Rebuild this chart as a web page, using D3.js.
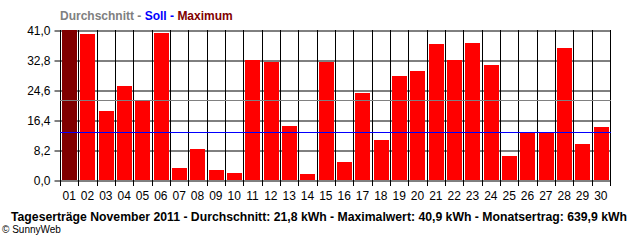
<!DOCTYPE html>
<html>
<head>
<meta charset="utf-8">
<script src="https://cdn.jsdelivr.net/npm/d3@7"></script>
<style>
  body { margin: 0; background: #fff; }
  text { font-family: "Liberation Sans", Arial, sans-serif; }
</style>
</head>
<body>
<div id="chart"></div>
<script>
// daily yields November 2011 (kWh)
const days = d3.range(1, 31).map(d => d3.format("02d")(d))
const yields = [40.9, 39.9, 18.9, 25.7, 21.6, 40.3, 3.3, 8.6, 2.7, 1.9,
                32.8, 32.3, 14.8, 1.6, 32.3, 4.9, 23.8, 10.9, 28.4, 29.8,
                37.2, 32.8, 37.4, 31.4, 6.6, 13.0, 13.0, 36.1, 9.8, 14.5]
const yTicks = [0, 8.2, 16.4, 24.6, 32.8, 41.0]
const average = 21.8
const target = 13.0
const legendParts = [["Durchschnitt", "#808080"], [" - ", "#808080"], ["Soll", "#0000ff"], [" - ", "#0000ff"], ["Maximum", "#800000"]]
const title = "Tageserträge November 2011 - Durchschnitt: 21,8 kWh - Maximalwert: 40,9 kWh - Monatsertrag: 639,9 kWh"

const width = 640, height = 240
const plot = { left: 60, right: 610, top: 30, bottom: 180 }

const svg = d3.select("#chart").append("svg")
    .attr("width", width)
    .attr("height", height)

const x = d3.scaleBand().domain(days).range([plot.left, plot.right]).padding(0)
const y = d3.scaleLinear().domain([0, 41]).range([plot.bottom, plot.top])
const fmt = v => d3.format(".1f")(v).replace(".", ",")
const maxVal = d3.max(yields)

// legend
const leg = svg.append("text")
    .attr("x", 60).attr("y", 20)
    .attr("font-size", 12).attr("font-weight", "bold")
leg.selectAll("tspan").data(legendParts).join("tspan")
    .attr("fill", d => d[1])
    .text(d => d[0])

// horizontal grid + left ticks
const yAxis = svg.append("g")
    .attr("transform", "translate(" + (plot.left + 0.5) + ",0.5)")
    .call(d3.axisLeft(y).tickValues(yTicks).tickFormat(fmt).tickSize(6).tickPadding(4))
yAxis.select(".domain").remove()
yAxis.selectAll("line").attr("stroke", "#000").attr("x2", plot.right - plot.left).attr("x1", -6)
yAxis.selectAll("text").attr("font-size", 12).attr("font-family", "Liberation Sans, Arial").attr("fill", "#000").attr("dy", "0.35em")

// vertical grid at day boundaries
const bounds = days.map(d => x(d)).concat([plot.right])
svg.append("g").selectAll("line").data(bounds).join("line")
    .attr("x1", d => Math.round(d) + 0.5).attr("x2", d => Math.round(d) + 0.5)
    .attr("y1", plot.top).attr("y2", plot.bottom + 6)
    .attr("stroke", "#000")

// bars
svg.append("g").selectAll("rect").data(yields).join("rect")
    .attr("x", (d, i) => Math.round(x(days[i])) + 2)
    .attr("width", Math.round(x.bandwidth()) - 3)
    .attr("y", d => Math.round(y(d)))
    .attr("height", d => plot.bottom - Math.round(y(d)))
    .attr("fill", d => d === maxVal ? "#800000" : "#ff0000")

// x labels
svg.append("g").selectAll("text").data(days).join("text")
    .attr("x", d => x(d) + x.bandwidth() / 2)
    .attr("y", 200)
    .attr("text-anchor", "middle")
    .attr("font-size", 12)
    .text(d => d)

// average and target lines
svg.append("line")
    .attr("x1", plot.left).attr("x2", plot.right + 1)
    .attr("y1", Math.round(y(average)) + 0.5).attr("y2", Math.round(y(average)) + 0.5)
    .attr("stroke", "#808080")
svg.append("line")
    .attr("x1", plot.left).attr("x2", plot.right + 1)
    .attr("y1", Math.round(y(target)) + 0.5).attr("y2", Math.round(y(target)) + 0.5)
    .attr("stroke", "#0000ff")

// footer
svg.append("text")
    .attr("x", 11).attr("y", 221)
    .attr("font-size", 12).attr("font-weight", "bold")
    .attr("textLength", 616).attr("lengthAdjust", "spacingAndGlyphs")
    .text(title)
svg.append("text")
    .attr("x", 2).attr("y", 233)
    .attr("font-size", 10)
    .text("© SunnyWeb")
</script>
</body>
</html>
